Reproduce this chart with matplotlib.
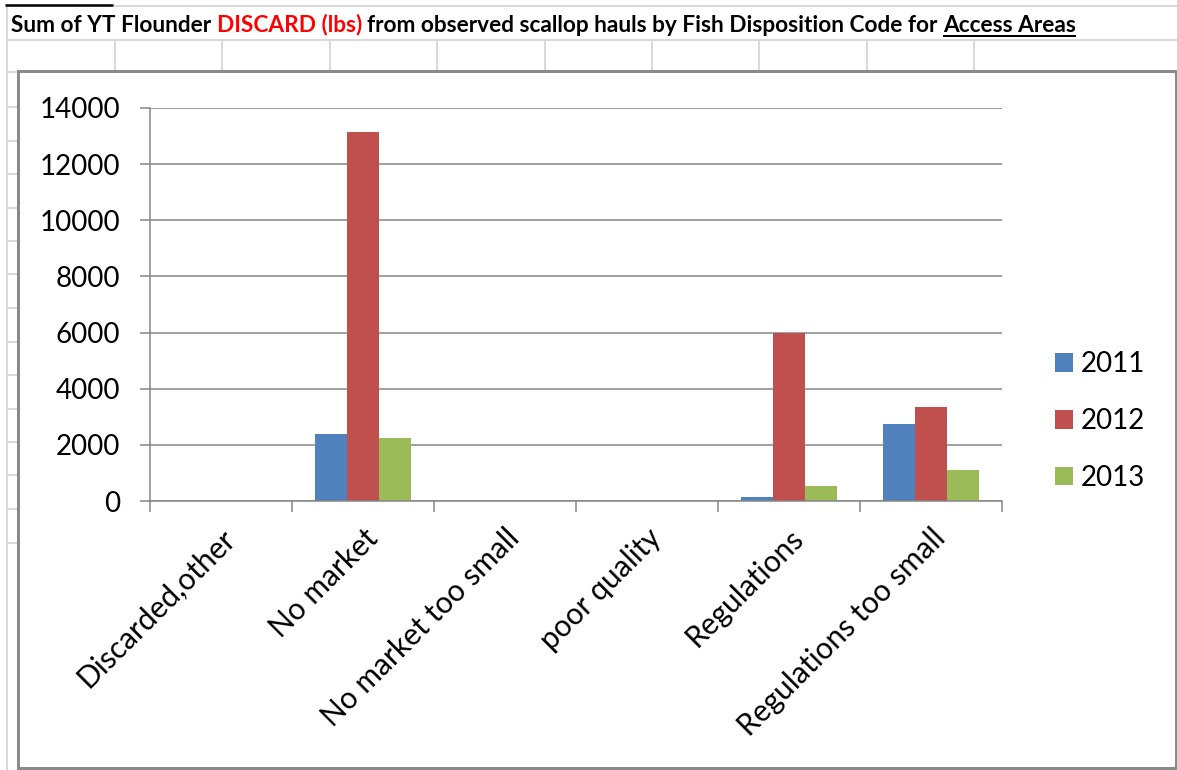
import matplotlib
matplotlib.use("Agg")
import matplotlib.pyplot as plt
from matplotlib.lines import Line2D
from matplotlib.patches import Rectangle
import numpy as np

# ---- data -------------------------------------------------------------
categories = ["Discarded,other", "No market", "No market too small",
              "poor quality", "Regulations", "Regulations too small"]
years = ["2011", "2012", "2013"]
discard_2011 = [0, 2380, 0, 0, 130, 2740]
discard_2012 = [0, 13130, 0, 0, 6000, 3350]
discard_2013 = [0, 2250, 0, 0, 540, 1090]
y_ticks = [0, 2000, 4000, 6000, 8000, 10000, 12000, 14000]

series = [discard_2011, discard_2012, discard_2013]
colors = ["#4F81BD", "#C0504D", "#9BBB59"]

plt.rcParams["font.family"] = ["Lato", "DejaVu Sans"]

W, H, DPI = 1177, 770, 100
fig = plt.figure(figsize=(W / DPI, H / DPI), dpi=DPI)
fig.patch.set_facecolor("white")


def fx(x):
    return x / W


def fy(y):
    return 1 - y / H


def px2pt(p):
    return p * 72.0 / DPI


def hline(y, x0, x1, color="#D9D9D9", lw=2.0, z=0):
    fig.add_artist(Line2D([fx(x0), fx(x1)], [fy(y), fy(y)],
                          transform=fig.transFigure, color=color,
                          lw=px2pt(lw), zorder=z, solid_capstyle="butt"))


def vline(x, y0, y1, color="#D9D9D9", lw=2.0, z=0):
    fig.add_artist(Line2D([fx(x), fx(x)], [fy(y0), fy(y1)],
                          transform=fig.transFigure, color=color,
                          lw=px2pt(lw), zorder=z, solid_capstyle="butt"))


# ---- worksheet grid behind the chart ---------------------------------
vline(7, 6, H)
hline(6, 113, W)
hline(5, 5, 113, color="black", lw=2.5)
hline(39.5, 7, W)
hline(72, 7, W)
for cx in np.arange(115, 980, 107.4):
    vline(cx, 39.5, 72)
for ry in np.arange(107, 545, 33.5):
    hline(ry, 7, 18)

# ---- title with mixed colours and underline --------------------------
renderer = fig.canvas.get_renderer()
title_parts = [
    ("Sum of YT Flounder", "black", False),
    ("DISCARD (lbs)", "#FF0000", False),
    ("from observed scallop hauls by Fish Disposition Code for", "black", False),
    ("Access Areas", "black", True),
]
title_left, title_right, title_base = 11, 1083, 31.5


def text_width(s, size):
    t = fig.text(0, 0, s, fontsize=size, fontweight="bold")
    w = t.get_window_extent(renderer).width
    t.remove()
    return w


base_size = 15.0
space_w0 = text_width("n n", base_size) - text_width("nn", base_size)
total0 = sum(text_width(p[0], base_size) for p in title_parts) + space_w0 * (len(title_parts) - 1)
title_size = base_size * (title_right - title_left) / total0
space_w = text_width("n n", title_size) - text_width("nn", title_size)

cur = title_left
for s, col, underline in title_parts:
    t = fig.text(fx(cur), fy(title_base), s, fontsize=title_size,
                 fontweight="bold", color=col, ha="left", va="baseline")
    w = t.get_window_extent(renderer).width
    if underline:
        hline(36, cur, cur + w, color="black", lw=2.0, z=5)
    cur += w + space_w

# ---- chart object frame ----------------------------------------------
fig.add_artist(Rectangle((fx(17.5), fy(768)), fx(1176) - fx(17.5), fy(71) - fy(768),
                         transform=fig.transFigure, facecolor="white",
                         edgecolor="#8A8A8A", lw=px2pt(3), zorder=1))

# ---- plot area ---------------------------------------------------------
ax = fig.add_axes([fx(150), fy(501), (1002 - 150) / W, (501 - 108) / H], zorder=2)
ax.set_facecolor("none")

x = np.arange(len(categories))
bw = 0.225
for i, (vals, col, yr) in enumerate(zip(series, colors, years)):
    ax.bar(x + (i - 1) * bw, vals, bw, color=col, label=yr, zorder=3,
           linewidth=0)

grid_col = "#868686"
ax.set_xlim(-0.5, len(categories) - 0.5)
ax.set_ylim(0, 14000)
ax.set_yticks(y_ticks)
ax.set_yticklabels([str(v) for v in y_ticks])
ax.yaxis.grid(True, color=grid_col, lw=1.1)
ax.set_axisbelow(True)

for side in ("top", "right"):
    ax.spines[side].set_visible(False)
for side in ("left", "bottom"):
    ax.spines[side].set_color(grid_col)
    ax.spines[side].set_linewidth(1.1)
    ax.spines[side].set_zorder(4)

ax.set_xticks(np.arange(-0.5, len(categories), 1.0))
ax.set_xticklabels([])
ax.set_xticks(x, categories, minor=True)
ax.tick_params(axis="x", which="major", direction="out", length=px2pt(11),
               width=1.1, color=grid_col)
ax.tick_params(axis="x", which="minor", length=0, pad=px2pt(23), labelsize=21.5,
               labelcolor="black")
for lbl in ax.get_xticklabels(minor=True):
    lbl.set_rotation(45)
    lbl.set_ha("right")
    lbl.set_rotation_mode("anchor")

ax.tick_params(axis="y", direction="out", length=px2pt(10), width=1.1,
               color=grid_col, pad=px2pt(20), labelsize=20, labelcolor="black")

ax.legend(loc="center left", bbox_to_anchor=(fx(1055), fy(421)),
          bbox_transform=fig.transFigure, frameon=False, fontsize=20,
          handlelength=0.65, handleheight=0.65, handletextpad=0.28,
          labelspacing=1.1, borderpad=0, borderaxespad=0)

fig.savefig("out.png", dpi=DPI)
